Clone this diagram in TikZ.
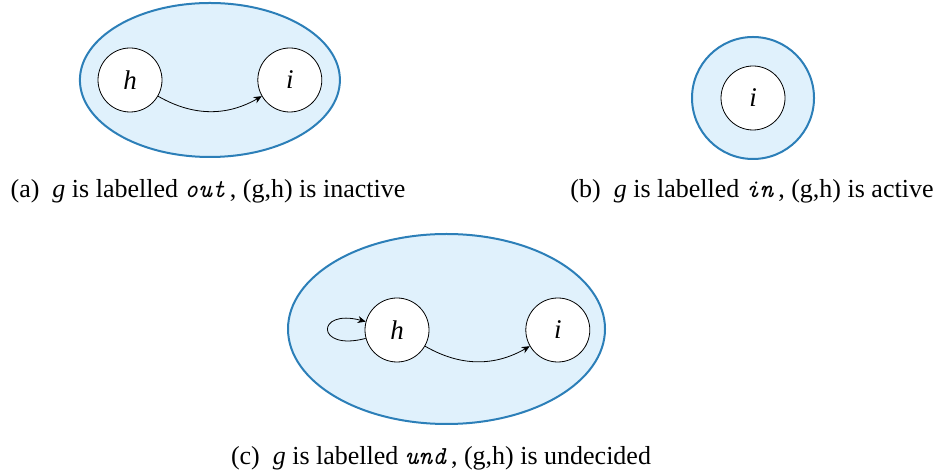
\documentclass[tikz,border=0pt]{standalone}
\usepackage{fontspec}
\setmainfont{LiberationSerif}[
  Extension=.ttf, UprightFont=*-Regular, ItalicFont=*-Italic,
  BoldFont=*-Bold, BoldItalicFont=*-BoldItalic]
\usepackage{tikz}
\usetikzlibrary{
  shapes.geometric, arrows.meta, positioning,
  backgrounds, calc
}
\definecolor{grpblue}{HTML}{2C7FB8}
\definecolor{grpfill}{HTML}{E0F1FC}
\newcommand{\lbltt}[1]{\texttt{\itshape #1}}

\begin{document}
\begin{tikzpicture}[
  x=0.5pt, y=-0.5pt,
  state/.style={circle, draw, thin, fill=white,
                minimum size=32pt, inner sep=0pt,
                font=\fontsize{13.5}{15}\selectfont\itshape},
  group/.style={ellipse, draw=grpblue, line width=1pt,
                fill=grpfill, inner sep=0pt},
  subcap/.style={anchor=base, inner sep=0pt,
                 font=\fontsize{13}{15}\selectfont},
  arr/.style={-{Stealth[length=4pt, width=3.5pt]}, thin}
]
  \useasboundingbox (0,0) rectangle (940,474);

  % (a) out
  \node[state] (h1) at (130,80) {h};
  \node[state, right=47.5pt of h1] (i1) {i};
  \begin{scope}[on background layer]
    \node[group, minimum width=130pt, minimum height=77pt]
      (ga) at ($(h1)!0.5!(i1)$) {};
  \end{scope}
  \draw[arr] (h1) to[bend right=30] (i1);
  \node[subcap] (capa) at (208,198)
    {(a)\enspace\textit{g} is labelled \lbltt{out}\,, (g,h) is inactive};

  % (b) in
  \node[state] (i2) at (753,98) {i};
  \begin{scope}[on background layer]
    \node[group, circle, minimum size=61pt] (gb) at (i2) {};
  \end{scope}
  \node[subcap] (capb) at (752,198)
    {(b)\enspace\textit{g} is labelled \lbltt{in}\,, (g,h) is active};

  % (c) und
  \node[state] (h3) at (397,330) {h};
  \node[state, right=48pt of h3] (i3) {i};
  \begin{scope}[on background layer]
    \node[group, minimum width=158.5pt, minimum height=95pt]
      (gc) at (446.5,329) {};
  \end{scope}
  \draw[arr] (h3) to[loop left, min distance=26pt] (h3);
  \draw[arr] (h3) to[bend right=30] (i3);
  \node[subcap] (capc) at (441,465)
    {(c)\enspace\textit{g} is labelled \lbltt{und}\,, (g,h) is undecided};
\end{tikzpicture}
\end{document}
